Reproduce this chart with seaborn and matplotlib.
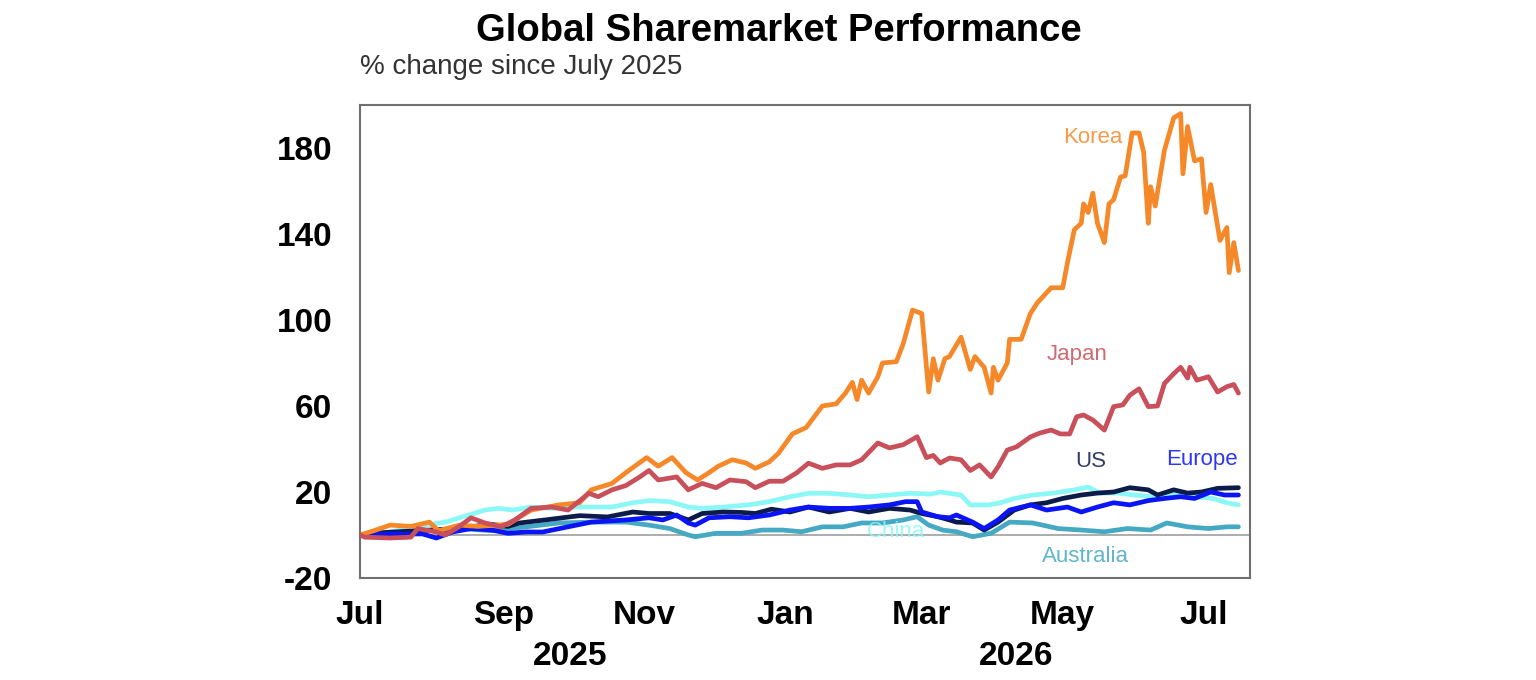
import seaborn as sns
import matplotlib.pyplot as plt
import matplotlib.dates as mdates
import pandas as pd

# days since 1 Jul 2025, % change
korea_days = [0, 6, 13, 22, 30, 34, 43, 51, 64, 74, 86, 95, 100, 109, 115, 124, 129, 135, 141, 146,
              151, 155, 161, 167, 171, 177, 181, 187, 193, 200, 206, 210, 213, 215, 217, 220, 224, 226,
              232, 235, 239, 243, 246, 248, 250, 253, 255, 260, 264, 266, 270, 273, 274, 276, 280, 281,
              286, 290, 293, 299, 304, 306, 309, 312, 313, 315, 317, 319, 322, 324, 326, 329, 331, 334,
              337, 339, 341, 342, 344, 348, 352, 355, 356, 358, 361, 364, 366, 368, 372, 375, 376, 378, 380]
korea_vals = [0, 2, 4.6, 4, 6, 2, 4.6, 4, 5, 11.6, 14, 15, 21, 24, 29, 36, 32, 36, 29, 25.6,
              29, 32, 35, 33.5, 31, 34, 38, 47, 50, 60, 61, 66, 71, 63, 72, 66, 73.6, 80,
              80.6, 89, 104.6, 103, 66.5, 82, 72, 82, 83, 92, 77, 83, 78, 66, 78, 72, 80, 91,
              91, 103, 108, 115, 115, 126.5, 142, 145, 154, 150, 159, 145, 136, 154, 156, 166.5, 167, 187,
              187, 178, 145, 162, 153, 179, 194, 196, 168, 190, 174, 175, 150, 163, 137, 143, 122, 136, 123]

japan_days = [0, 2, 13, 22, 25, 33, 37, 43, 48, 54, 61, 67, 74, 83, 90, 99, 103, 109, 115, 121,
              125, 129, 137, 142, 148, 154, 160, 167, 171, 177, 183, 189, 194, 200, 206, 212, 217, 224,
              229, 235, 241, 245, 248, 251, 255, 260, 264, 268, 273, 276, 280, 284, 290, 294, 299, 303,
              307, 310, 313, 317, 322, 326, 330, 333, 337, 341, 345, 348, 352, 355, 358, 359, 362, 367,
              371, 375, 378, 380]
japan_vals = [0, -1, -1.4, -1, 3, 1.4, 0, 4, 8, 5.6, 3.8, 7, 12.4, 13, 11.6, 19.4, 17.8, 21, 23, 27,
              30, 25.6, 27, 21, 24, 22, 25.6, 24.8, 22, 25, 25, 29, 33.4, 31, 32.6, 32.6, 35, 42.8,
              40.5, 42, 45.7, 36, 37, 33.5, 35.8, 35, 30, 32.6, 27, 31.7, 39.5, 41, 45.6, 47.4, 48.8, 47,
              47, 55, 55.8, 53.5, 48.8, 59.7, 60.5, 65, 68, 59.7, 60, 70.5, 75, 78, 73, 78, 72, 73.6,
              66.5, 69, 70, 66]

us_days = [0, 8, 25, 43, 56, 64, 69, 80, 95, 107, 118, 125, 134, 142, 148, 157, 165, 171, 178, 186,
           194, 203, 212, 220, 229, 238, 243, 250, 255, 258, 265, 270, 276, 283, 290, 297, 304, 312,
           319, 326, 333, 341, 345, 352, 358, 364, 371, 380]
us_vals = [0, 1, 2, 3, 5, 4, 5.6, 7, 9, 8.4, 10.7, 10, 10, 7, 10, 10.7, 10.5, 10, 12, 10.7,
           13, 10.7, 12.4, 10.7, 12.4, 11.6, 10, 8.5, 7, 6, 5.6, 2.3, 6, 11.6, 14, 15, 17, 18.6,
           19.5, 20, 22, 21, 18.6, 21, 19.5, 20, 21.7, 22]

europe_days = [0, 13, 27, 33, 40, 48, 57, 64, 72, 79, 100, 115, 125, 131, 137, 142, 145, 151, 160, 168,
               177, 186, 194, 203, 212, 220, 229, 236, 241, 243, 250, 255, 258, 265, 270, 276, 281, 290,
               297, 306, 312, 319, 326, 333, 341, 348, 355, 361, 368, 374, 380]
europe_vals = [0, 0.5, 0.5, -1.4, 1.4, 3, 2.3, 0.8, 1.4, 1.4, 6, 7, 8, 7, 9.3, 5.6, 4.6, 8, 8.5, 8,
               9.3, 11.6, 13, 12.4, 12.4, 13, 14, 15.5, 15.5, 10.7, 8.5, 8, 9.3, 6, 3, 7, 11.6, 14,
               11.6, 13, 10.7, 13, 15, 14, 16, 17, 17.8, 17, 20, 18.6, 18.6]

china_days = [0, 13, 28, 37, 47, 54, 60, 66, 74, 83, 92, 100, 109, 118, 125, 134, 142, 148, 157, 168,
              177, 186, 194, 203, 212, 220, 229, 238, 247, 251, 260, 264, 272, 277, 283, 291, 300, 309,
              315, 320, 328, 335, 343, 352, 361, 369, 375, 380]
china_vals = [0, 1.4, 4.6, 6, 9.3, 11.6, 12.4, 11.6, 13, 12.4, 13, 13, 13, 15, 16, 15.5, 13, 12.4, 13, 14,
              15.5, 17.8, 19.4, 19.4, 18.6, 17.8, 18.6, 19.4, 19, 20, 18.6, 14, 14, 15, 17, 18.6, 19.5, 21,
              22.3, 19.5, 19.5, 18.6, 17.8, 19.5, 17.8, 17, 15, 14]

aus_days = [0, 13, 28, 43, 57, 72, 86, 100, 115, 125, 134, 142, 145, 154, 165, 174, 183, 191, 200, 209,
            217, 226, 235, 241, 246, 252, 258, 265, 273, 281, 291, 302, 312, 322, 332, 342, 349, 358,
            367, 375, 380]
aus_vals = [0, 1, 2, 3, 2, 3.8, 5.6, 6, 6, 4.6, 3, 0, -0.8, 0.8, 0.8, 2.3, 2.3, 1.5, 3.8, 3.8,
            5.6, 5.6, 7, 8.5, 4.6, 2.3, 1.5, -0.8, 0.8, 6, 5.6, 3, 2.3, 1.5, 3, 2.3, 5.6, 3.8,
            3, 3.8, 3.8]

series = {
    "China": (china_days, china_vals),
    "Australia": (aus_days, aus_vals),
    "US": (us_days, us_vals),
    "Europe": (europe_days, europe_vals),
    "Korea": (korea_days, korea_vals),
    "Japan": (japan_days, japan_vals),
}
colors = {
    "China": "#8cf7f7",
    "Australia": "#45a9c4",
    "US": "#0d1b4b",
    "Europe": "#0a14f5",
    "Korea": "#f5892a",
    "Japan": "#c94f5a",
}

# label positions: (day, value)
label_days = {"Korea": 317, "Japan": 310, "US": 316, "Europe": 364, "China": 232, "Australia": 314}
label_vals = {"Korea": 185, "Japan": 84, "US": 34.4, "Europe": 35.3, "China": 1.4, "Australia": -9.8}

start = pd.Timestamp("2025-07-01")
frames = []
for name, (d, v) in series.items():
    frames.append(pd.DataFrame({"date": start + pd.to_timedelta(d, unit="D"),
                                "pct": v, "market": name}))
df = pd.concat(frames, ignore_index=True)

sns.set_theme(style="white")
plt.rcParams["font.family"] = ["Liberation Sans", "DejaVu Sans"]

fig = plt.figure(figsize=(15.36, 6.8), dpi=100)
ax = fig.add_axes([0.2344, 0.15, 0.5794, 0.6956])

ax.axhline(0, color="#a6a6a6", lw=1.3, zorder=1)
sns.lineplot(data=df, x="date", y="pct", hue="market", palette=colors,
             hue_order=list(series.keys()), estimator=None, sort=True,
             lw=3.4, legend=False, ax=ax, zorder=3)

ax.set_xlim(start, pd.Timestamp("2026-07-21"))
ax.set_ylim(-20, 200)

# y ticks every 20, labels every 40
yt = list(range(-20, 201, 20))
ax.set_yticks(yt)
ax.set_yticklabels([str(v) if (v + 20) % 40 == 0 else "" for v in yt])
ax.tick_params(axis="y", direction="out", length=8, width=1.3, color="#707070",
               labelsize=24, labelcolor="black", pad=12)
for t in ax.get_yticklabels():
    t.set_fontweight("bold")

ax.xaxis.set_major_locator(mdates.MonthLocator(bymonth=[1, 3, 5, 7, 9, 11]))
ax.xaxis.set_major_formatter(mdates.DateFormatter("%b"))
ax.tick_params(axis="x", direction="in", length=6, width=1.3, color="#707070",
               labelsize=24, labelcolor="black", pad=16)
for t in ax.get_xticklabels():
    t.set_fontweight("bold")
ax.set_xlabel("")
ax.set_ylabel("")

for s in ax.spines.values():
    s.set_visible(True)
    s.set_color("#707070")
    s.set_linewidth(1.5)

# year labels under months
ax.text(pd.Timestamp("2025-09-30"), -0.167, "2025", transform=ax.get_xaxis_transform(),
        ha="center", va="center", fontsize=24, fontweight="bold", color="black")
ax.text(pd.Timestamp("2026-04-11"), -0.167, "2026", transform=ax.get_xaxis_transform(),
        ha="center", va="center", fontsize=24, fontweight="bold", color="black")

for name in series:
    ax.text(start + pd.Timedelta(days=label_days[name]), label_vals[name], name,
            color=colors[name], fontsize=16, ha="center", va="center", alpha=0.85)

fig.text(0.507, 0.954, "Global Sharemarket Performance", ha="center", va="center",
         fontsize=27.5, fontweight="bold", color="black")
fig.text(0.2344, 0.902, "% change since July 2025", ha="left", va="center",
         fontsize=20, color="#333333")

fig.savefig("out.png", dpi=100)
